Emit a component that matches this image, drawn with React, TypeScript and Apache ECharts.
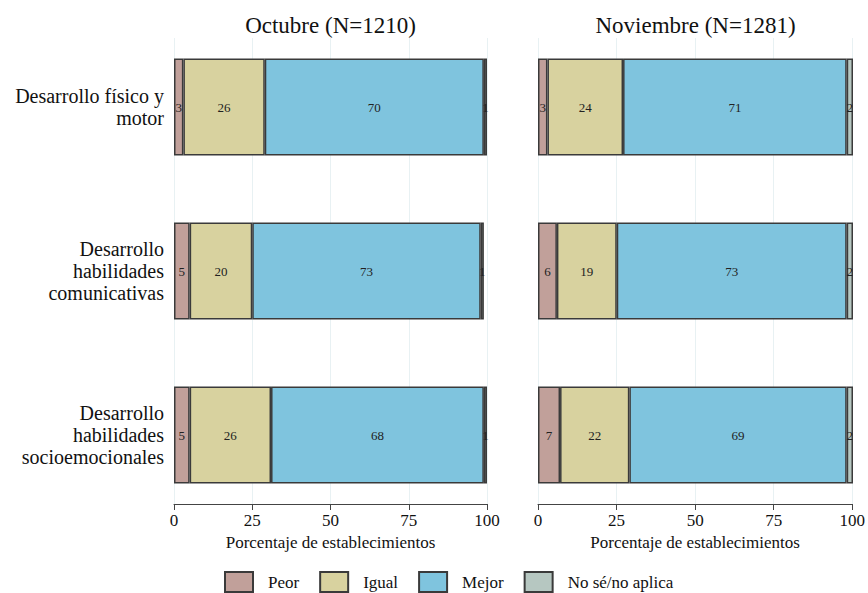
import React, { useEffect, useRef } from "react";
import * as echarts from "echarts";

const categories = [
  "Desarrollo físico y\nmotor",
  "Desarrollo\nhabilidades\ncomunicativas",
  "Desarrollo\nhabilidades\nsocioemocionales",
];
const seriesNames = ["Peor", "Igual", "Mejor", "No sé/no aplica"];
const panelTitles = ["Octubre (N=1210)", "Noviembre (N=1281)"];

// Octubre
const octPeor = [3, 5, 5];
const octIgual = [26, 20, 26];
const octMejor = [70, 73, 68];
const octNoSe = [1, 1, 1];
// Noviembre
const novPeor = [3, 6, 7];
const novIgual = [24, 19, 22];
const novMejor = [71, 73, 69];
const novNoSe = [2, 2, 2];

const xTicks = [0, 25, 50, 75, 100];

const colors = ["#c1a09a", "#d8d29f", "#7fc4de", "#b6c7c1"];
const FONT = "'Liberation Serif', 'DejaVu Serif', serif";

export default function App() {
  const ref = useRef<HTMLDivElement>(null);
  useEffect(() => {
    document.body.style.margin = "0";
    if (!ref.current) return;
    const chart = echarts.init(ref.current, null, { renderer: "svg" });
    const panels = [
      [octPeor, octIgual, octMejor, octNoSe],
      [novPeor, novIgual, novMejor, novNoSe],
    ];
    const series: any[] = [];
    panels.forEach((vals, p) => {
      vals.forEach((arr, i) => {
        series.push({
          type: "bar",
          name: seriesNames[i],
          xAxisIndex: p,
          yAxisIndex: p,
          stack: "s" + p,
          barWidth: 97,
          data: arr,
          itemStyle: { color: colors[i], borderColor: "#3a3a3a", borderWidth: 1.5 },
          label: {
            show: true,
            position: "inside",
            color: "#222",
            fontFamily: FONT,
            fontSize: 13,
            formatter: (d: any) => String(d.value),
          },
          emphasis: { disabled: true },
        });
      });
    });
    const gridLefts = [174, 538];
    const gridWidths = [313, 315];
    const option: any = {
      animation: false,
      backgroundColor: "#ffffff",
      title: panelTitles.map((t, i) => ({
        text: t,
        left: gridLefts[i] + gridWidths[i] / 2 - 5,
        top: 9,
        textAlign: "center",
        textStyle: { fontFamily: FONT, fontSize: 23, fontWeight: "normal", color: "#111" },
      })),
      legend: {
        data: seriesNames,
        left: 219,
        top: 566,
        itemWidth: 28,
        itemHeight: 20,
        itemGap: 20,
        icon: "rect",
        selectedMode: false,
        textStyle: { fontFamily: FONT, fontSize: 17, color: "#111", padding: [0, 0, 0, 10] },
      },
      grid: [
        { left: gridLefts[0], width: gridWidths[0], top: 25, height: 492 },
        { left: gridLefts[1], width: gridWidths[1], top: 25, height: 492 },
        { left: gridLefts[0], width: gridWidths[0], top: 38, height: 466 },
        { left: gridLefts[1], width: gridWidths[1], top: 38, height: 466 },
      ],
      xAxis: [
        { type: "value", gridIndex: 0, min: 0, max: 100, show: false },
        { type: "value", gridIndex: 1, min: 0, max: 100, show: false },
        ...[2, 3].map((g) => ({
          type: "value",
          gridIndex: g,
          min: xTicks[0],
          max: xTicks[xTicks.length - 1],
          interval: 25,
          name: "Porcentaje de establecimientos",
          nameLocation: "middle",
          nameGap: 30,
          nameTextStyle: { fontFamily: FONT, fontSize: 17, color: "#111" },
          axisLine: { show: true, lineStyle: { color: "#444", width: 1 } },
          axisTick: { show: true, length: 6, lineStyle: { color: "#444" } },
          axisLabel: { fontFamily: FONT, fontSize: 17, color: "#111", margin: 8 },
          splitLine: { show: true, lineStyle: { color: "#e8f1f3", width: 1 } },
        })),
      ],
      yAxis: [
        {
          type: "category",
          gridIndex: 0,
          data: categories,
          inverse: true,
          axisLine: { show: false },
          axisTick: { show: false },
          splitLine: { show: false },
          axisLabel: {
            fontFamily: FONT,
            fontSize: 20,
            lineHeight: 22,
            color: "#111",
            margin: 10,
            align: "right",
          },
        },
        {
          type: "category",
          gridIndex: 1,
          data: categories,
          inverse: true,
          axisLine: { show: false },
          axisTick: { show: false },
          axisLabel: { show: false },
          splitLine: { show: false },
        },
        { type: "value", gridIndex: 2, show: false },
        { type: "value", gridIndex: 3, show: false },
      ],
      series,
    };
    chart.setOption(option);
    return () => chart.dispose();
  }, []);
  return <div ref={ref} style={{ width: 868, height: 593 }} />;
}
